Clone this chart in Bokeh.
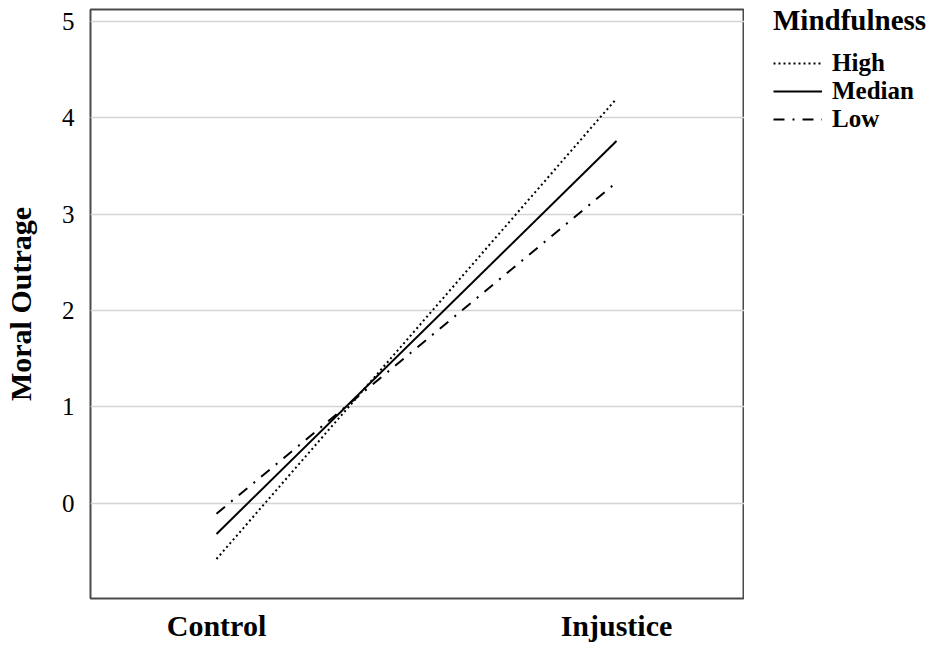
from bokeh.plotting import figure
from bokeh.models import FixedTicker, Legend, LegendItem, Range1d
from bokeh.layouts import row
from bokeh.embed import file_html
from bokeh.resources import INLINE

# ---- data ----
conditions = ["Control", "Injustice"]
condition_pos = [1, 2]
high = [-0.58, 4.20]
median = [-0.32, 3.76]
low = [-0.11, 3.33]
y_ticks = [0, 1, 2, 3, 4, 5]
series_names = ["High", "Median", "Low"]
series_dash = ["2 3", "solid", "11 8 2 8"]
legend_title = "Mindfulness"
y_label = "Moral Outrage"

FONT = "Liberation Serif"

p = figure(width=744, height=645, output_backend="svg", toolbar_location=None,
           x_range=Range1d(0.685, 2.32), y_range=Range1d(-0.99, 5.125),
           min_border_left=90, min_border_right=0, min_border_top=9,
           min_border_bottom=47)

p.outline_line_color = "#4a4a4a"
p.outline_line_width = 2
p.background_fill_color = "white"
p.border_fill_color = "white"

# grid
p.xgrid.visible = False
p.ygrid.ticker = FixedTicker(ticks=y_ticks)
p.ygrid.grid_line_color = "#d4d4d4"
p.ygrid.grid_line_width = 1.5

# x axis
xa = p.xaxis[0]
xa.ticker = FixedTicker(ticks=condition_pos)
xa.major_label_overrides = {pos: lab for pos, lab in zip(condition_pos, conditions)}
xa.major_label_text_font = FONT
xa.major_label_text_font_size = "30px"
xa.major_label_text_font_style = "bold"
xa.major_label_text_color = "black"
xa.major_label_standoff = 4
xa.axis_line_color = None
xa.major_tick_line_color = None
xa.minor_tick_line_color = None

# y axis
ya = p.yaxis[0]
ya.ticker = FixedTicker(ticks=y_ticks)
ya.major_label_text_font = FONT
ya.major_label_text_font_size = "25px"
ya.major_label_text_color = "black"
ya.major_label_standoff = 10
ya.axis_line_color = None
ya.major_tick_line_color = None
ya.minor_tick_line_color = None
ya.axis_label = y_label
ya.axis_label_text_font = FONT
ya.axis_label_text_font_size = "30px"
ya.axis_label_text_font_style = "bold"
ya.axis_label_text_color = "black"
ya.axis_label_standoff = 22

series_vals = [high, median, low]

# lines
for vals, dash in zip(series_vals, series_dash):
    p.line(condition_pos, vals, line_color="black", line_width=2, line_dash=dash)

# legend panel (separate blank figure to the right of the plot box)
p2 = figure(width=191, height=645, output_backend="svg", toolbar_location=None,
            x_axis_location=None, y_axis_location=None,
            min_border_left=0, min_border_right=0, min_border_top=0, min_border_bottom=0)
p2.outline_line_color = None
p2.grid.visible = False
p2.background_fill_color = "white"
p2.border_fill_color = "white"

items = []
for name, vals, dash in zip(series_names, series_vals, series_dash):
    r = p2.line(condition_pos, vals, line_color="black", line_width=2, line_dash=dash,
                visible=False)
    items.append(LegendItem(label=name, renderers=[r]))

legend = Legend(
    items=items,
    title=legend_title,
    location=(29, 465),
    margin=0, padding=0,
    border_line_color=None, background_fill_alpha=0,
    glyph_width=49, glyph_height=20, label_standoff=10, spacing=0,
    title_text_font=FONT, title_text_font_size="29px", title_text_font_style="bold",
    title_text_color="black", title_standoff=12,
    label_text_font=FONT, label_text_font_size="25px", label_text_font_style="bold",
    label_text_color="black",
)
p2.add_layout(legend, "center")

layout = row(p, p2, spacing=0)
open("out.html", "w").write(file_html(layout, INLINE))
